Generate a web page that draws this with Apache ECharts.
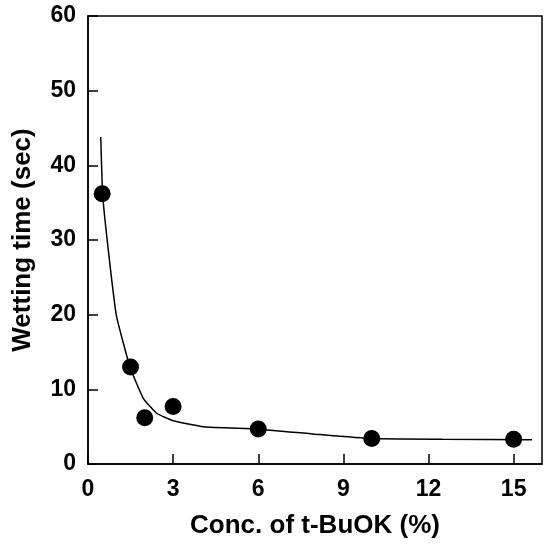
<!DOCTYPE html>
<html>
<head>
<meta charset="utf-8">
<script src="https://cdn.jsdelivr.net/npm/echarts@6/dist/echarts.min.js"></script>
<style>
  html, body { margin: 0; padding: 0; background: #fff; }
  #chart { width: 547px; height: 544px; }
</style>
</head>
<body>
<div id="chart"></div>
<script>
// measured points
var concPct = [0.5, 1.5, 2, 3, 6, 10, 15];
var wettingSec = [36.2, 13.0, 6.2, 7.7, 4.7, 3.4, 3.3];

// fitted curve
var fitConc = [0.45, 0.52, 0.75, 1.0, 1.48, 1.95, 2.42, 3.0, 4.07, 6.0, 8.0, 10.0, 12.5, 15.65];
var fitSec = [43.8, 35.9, 27.5, 19.9, 13.0, 8.8, 6.8, 5.8, 5.0, 4.67, 4.0, 3.4, 3.3, 3.25];

var xTicks = [0, 3, 6, 9, 12, 15];

var chartDom = document.getElementById('chart');
var myChart = echarts.init(chartDom);

var font = 'Liberation Sans, Arial, Helvetica, sans-serif';

var option = {
  backgroundColor: '#fff',
  animation: false,
  grid: {
    left: 88,
    top: 16,
    right: 5,
    bottom: 78,
    show: true,
    borderColor: '#000',
    borderWidth: 1.5
  },
  xAxis: {
    type: 'value',
    min: 0,
    max: 16,
    interval: 3,
    name: 'Conc. of t-BuOK (%)',
    nameLocation: 'middle',
    nameGap: 49,
    nameTextStyle: { fontFamily: font, fontWeight: 'bold', fontSize: 26, color: '#000' },
    axisLine: { lineStyle: { color: '#000', width: 1.5 } },
    axisTick: { inside: true, length: 10, lineStyle: { color: '#000', width: 1.5 } },
    axisLabel: {
      margin: 14,
      fontFamily: font,
      fontWeight: 'bold',
      fontSize: 23,
      color: '#000',
      showMaxLabel: false,
      formatter: function (v) { return xTicks.indexOf(v) >= 0 ? String(v) : ''; }
    },
    splitLine: { show: false }
  },
  yAxis: {
    type: 'value',
    min: 0,
    max: 60,
    interval: 10,
    name: 'Wetting time (sec)',
    nameLocation: 'middle',
    nameGap: 52,
    nameTextStyle: { fontFamily: font, fontWeight: 'bold', fontSize: 26, color: '#000' },
    axisLine: { show: true, lineStyle: { color: '#000', width: 1.5 } },
    axisTick: { show: true, inside: true, length: 10, lineStyle: { color: '#000', width: 1.5 } },
    axisLabel: { margin: 12, fontFamily: font, fontWeight: 'bold', fontSize: 23, color: '#000' },
    splitLine: { show: false }
  },
  series: [
    {
      type: 'line',
      data: fitConc.map(function (x, i) { return [x, fitSec[i]]; }),
      showSymbol: false,
      symbol: 'none',
      smooth: 0.15,
      lineStyle: { color: '#000', width: 1.5 },
      z: 2
    },
    {
      type: 'scatter',
      data: concPct.map(function (x, i) { return [x, wettingSec[i]]; }),
      symbol: 'circle',
      symbolSize: 17,
      itemStyle: { color: '#000', opacity: 1 },
      z: 3
    }
  ]
};
myChart.setOption(option);
</script>
</body>
</html>
